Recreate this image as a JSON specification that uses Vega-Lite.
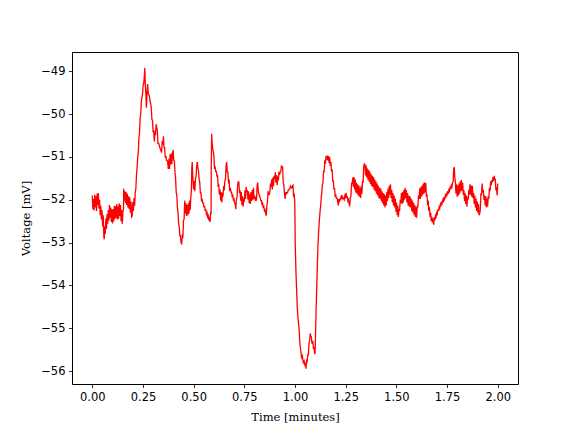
{
  "$schema": "https://vega.github.io/schema/vega-lite/v6.json",
  "width": 446,
  "height": 332,
  "autosize": {"type": "none"},
  "padding": {"left": 72, "top": 52, "right": 58, "bottom": 48},
  "background": "white",
  "config": {
    "view": {"stroke": "black", "strokeWidth": 1},
    "axis": {
      "grid": false,
      "domain": false,
      "tickColor": "black",
      "tickSize": 3.5,
      "tickWidth": 0.8,
      "labelPadding": 3.5,
      "labelFont": "DejaVu Sans",
      "labelFontSize": 11.5,
      "labelColor": "black",
      "titleFont": "DejaVu Serif",
      "titleFontSize": 11.5,
      "titleFontWeight": "normal",
      "titleColor": "black"
    }
  },
  "data": {
    "values": [
{"t":0.000,"v":-51.90},{"t":0.003,"v":-52.22},{"t":0.006,"v":-51.98},{"t":0.009,"v":-52.25},{"t":0.012,"v":-51.88},{"t":0.015,"v":-52.18},{"t":0.018,"v":-51.92},{"t":0.021,"v":-52.26},{"t":0.024,"v":-51.86},{"t":0.027,"v":-52.12},
{"t":0.030,"v":-51.84},{"t":0.033,"v":-52.20},{"t":0.036,"v":-52.00},{"t":0.039,"v":-52.36},{"t":0.042,"v":-52.14},{"t":0.045,"v":-52.46},{"t":0.048,"v":-52.24},{"t":0.051,"v":-52.62},{"t":0.054,"v":-52.36},{"t":0.057,"v":-52.85},
{"t":0.059,"v":-52.92},{"t":0.061,"v":-52.62},{"t":0.064,"v":-52.80},{"t":0.067,"v":-52.44},{"t":0.070,"v":-52.68},{"t":0.073,"v":-52.34},{"t":0.076,"v":-52.56},{"t":0.079,"v":-52.24},{"t":0.082,"v":-52.48},{"t":0.085,"v":-52.12},
{"t":0.088,"v":-52.42},{"t":0.091,"v":-52.18},{"t":0.094,"v":-52.52},{"t":0.097,"v":-52.22},{"t":0.100,"v":-52.55},{"t":0.103,"v":-52.22},{"t":0.106,"v":-52.50},{"t":0.109,"v":-52.14},{"t":0.112,"v":-52.45},{"t":0.115,"v":-52.15},
{"t":0.118,"v":-52.42},{"t":0.121,"v":-52.10},{"t":0.124,"v":-52.46},{"t":0.127,"v":-52.15},{"t":0.130,"v":-52.44},{"t":0.133,"v":-52.08},{"t":0.136,"v":-52.38},{"t":0.139,"v":-52.12},{"t":0.142,"v":-52.50},{"t":0.145,"v":-52.24},
{"t":0.148,"v":-52.56},{"t":0.151,"v":-52.28},{"t":0.154,"v":-52.22},{"t":0.155,"v":-51.74},{"t":0.158,"v":-52.02},{"t":0.161,"v":-51.80},{"t":0.164,"v":-52.08},{"t":0.167,"v":-51.82},{"t":0.170,"v":-52.12},{"t":0.173,"v":-51.86},
{"t":0.176,"v":-52.18},{"t":0.179,"v":-51.92},{"t":0.182,"v":-52.22},{"t":0.185,"v":-51.94},{"t":0.188,"v":-52.30},{"t":0.191,"v":-52.04},{"t":0.194,"v":-52.40},{"t":0.197,"v":-52.38},{"t":0.200,"v":-52.05},{"t":0.203,"v":-52.26},
{"t":0.206,"v":-51.96},{"t":0.209,"v":-52.14},{"t":0.212,"v":-51.82},{"t":0.215,"v":-51.74},{"t":0.218,"v":-51.42},{"t":0.221,"v":-51.26},{"t":0.224,"v":-51.02},{"t":0.227,"v":-50.90},{"t":0.230,"v":-50.56},{"t":0.233,"v":-50.45},
{"t":0.236,"v":-50.10},{"t":0.239,"v":-50.00},{"t":0.242,"v":-49.70},{"t":0.245,"v":-49.62},{"t":0.248,"v":-49.52},{"t":0.251,"v":-49.32},{"t":0.254,"v":-49.28},{"t":0.257,"v":-49.10},{"t":0.259,"v":-48.92},{"t":0.261,"v":-49.26},
{"t":0.264,"v":-49.50},{"t":0.267,"v":-49.85},{"t":0.270,"v":-49.50},{"t":0.273,"v":-49.30},{"t":0.276,"v":-49.52},{"t":0.279,"v":-49.55},{"t":0.282,"v":-49.58},{"t":0.285,"v":-49.70},{"t":0.288,"v":-49.76},{"t":0.291,"v":-49.85},
{"t":0.294,"v":-50.12},{"t":0.297,"v":-50.14},{"t":0.300,"v":-50.42},{"t":0.303,"v":-50.38},{"t":0.306,"v":-50.64},{"t":0.309,"v":-50.44},{"t":0.312,"v":-50.46},{"t":0.315,"v":-50.24},{"t":0.318,"v":-50.32},{"t":0.321,"v":-50.38},
{"t":0.324,"v":-50.68},{"t":0.327,"v":-50.68},{"t":0.330,"v":-50.72},{"t":0.333,"v":-50.78},{"t":0.336,"v":-50.82},{"t":0.339,"v":-50.86},{"t":0.342,"v":-50.88},{"t":0.345,"v":-50.62},{"t":0.348,"v":-50.72},{"t":0.351,"v":-50.52},
{"t":0.354,"v":-50.78},{"t":0.357,"v":-50.78},{"t":0.360,"v":-51.02},{"t":0.363,"v":-50.98},{"t":0.366,"v":-51.08},{"t":0.369,"v":-51.08},{"t":0.372,"v":-51.12},{"t":0.375,"v":-51.28},{"t":0.378,"v":-51.04},{"t":0.381,"v":-51.28},
{"t":0.384,"v":-50.94},{"t":0.387,"v":-51.18},{"t":0.390,"v":-50.92},{"t":0.393,"v":-51.16},{"t":0.396,"v":-50.88},{"t":0.399,"v":-50.86},{"t":0.402,"v":-51.08},{"t":0.405,"v":-51.10},{"t":0.408,"v":-51.36},{"t":0.411,"v":-51.50},
{"t":0.414,"v":-51.82},{"t":0.417,"v":-51.90},{"t":0.420,"v":-52.18},{"t":0.423,"v":-52.30},{"t":0.426,"v":-52.56},{"t":0.429,"v":-52.62},{"t":0.432,"v":-52.84},{"t":0.435,"v":-52.84},{"t":0.438,"v":-53.00},{"t":0.441,"v":-53.04},
{"t":0.444,"v":-52.84},{"t":0.447,"v":-52.86},{"t":0.450,"v":-52.48},{"t":0.453,"v":-52.46},{"t":0.456,"v":-52.02},{"t":0.459,"v":-52.32},{"t":0.462,"v":-52.08},{"t":0.465,"v":-52.38},{"t":0.468,"v":-52.12},{"t":0.471,"v":-52.36},
{"t":0.474,"v":-52.08},{"t":0.477,"v":-52.32},{"t":0.480,"v":-52.02},{"t":0.483,"v":-52.24},{"t":0.486,"v":-51.96},{"t":0.489,"v":-51.76},{"t":0.491,"v":-51.26},{"t":0.493,"v":-51.12},{"t":0.495,"v":-51.40},{"t":0.497,"v":-51.55},
{"t":0.500,"v":-51.76},{"t":0.503,"v":-51.56},{"t":0.506,"v":-51.80},{"t":0.509,"v":-51.50},{"t":0.512,"v":-51.46},{"t":0.515,"v":-51.20},{"t":0.518,"v":-51.12},{"t":0.521,"v":-51.26},{"t":0.524,"v":-51.32},{"t":0.527,"v":-51.52},
{"t":0.530,"v":-51.58},{"t":0.533,"v":-51.84},{"t":0.536,"v":-51.84},{"t":0.539,"v":-52.04},{"t":0.542,"v":-51.98},{"t":0.545,"v":-52.08},{"t":0.548,"v":-52.08},{"t":0.551,"v":-52.18},{"t":0.554,"v":-52.14},{"t":0.557,"v":-52.26},
{"t":0.560,"v":-52.22},{"t":0.563,"v":-52.33},{"t":0.566,"v":-52.30},{"t":0.569,"v":-52.40},{"t":0.572,"v":-52.37},{"t":0.575,"v":-52.48},{"t":0.578,"v":-52.44},{"t":0.581,"v":-52.52},{"t":0.584,"v":-52.28},{"t":0.586,"v":-52.34},
{"t":0.587,"v":-51.20},{"t":0.589,"v":-50.46},{"t":0.591,"v":-50.66},{"t":0.594,"v":-50.80},{"t":0.597,"v":-50.88},{"t":0.600,"v":-50.98},{"t":0.603,"v":-51.28},{"t":0.606,"v":-51.22},{"t":0.609,"v":-51.34},{"t":0.612,"v":-51.34},
{"t":0.615,"v":-51.46},{"t":0.618,"v":-51.42},{"t":0.621,"v":-51.70},{"t":0.624,"v":-51.64},{"t":0.627,"v":-51.88},{"t":0.630,"v":-51.76},{"t":0.633,"v":-52.02},{"t":0.636,"v":-51.82},{"t":0.639,"v":-52.06},{"t":0.642,"v":-51.84},
{"t":0.645,"v":-51.92},{"t":0.648,"v":-51.68},{"t":0.651,"v":-51.78},{"t":0.654,"v":-51.55},{"t":0.657,"v":-51.52},{"t":0.660,"v":-51.20},{"t":0.663,"v":-51.12},{"t":0.666,"v":-51.36},{"t":0.669,"v":-51.36},{"t":0.672,"v":-51.62},
{"t":0.675,"v":-51.52},{"t":0.678,"v":-51.80},{"t":0.681,"v":-51.72},{"t":0.684,"v":-51.82},{"t":0.687,"v":-51.82},{"t":0.690,"v":-51.92},{"t":0.693,"v":-51.90},{"t":0.696,"v":-52.00},{"t":0.699,"v":-51.98},{"t":0.702,"v":-52.08},
{"t":0.705,"v":-52.08},{"t":0.708,"v":-52.22},{"t":0.711,"v":-51.98},{"t":0.714,"v":-51.96},{"t":0.717,"v":-51.66},{"t":0.720,"v":-51.58},{"t":0.723,"v":-51.58},{"t":0.726,"v":-51.84},{"t":0.729,"v":-51.78},{"t":0.732,"v":-52.02},
{"t":0.735,"v":-51.82},{"t":0.738,"v":-52.12},{"t":0.741,"v":-51.92},{"t":0.744,"v":-52.16},{"t":0.747,"v":-52.00},{"t":0.750,"v":-52.02},{"t":0.753,"v":-51.78},{"t":0.756,"v":-51.98},{"t":0.759,"v":-51.70},{"t":0.762,"v":-51.82},
{"t":0.765,"v":-51.78},{"t":0.768,"v":-52.00},{"t":0.771,"v":-51.80},{"t":0.774,"v":-52.08},{"t":0.777,"v":-51.87},{"t":0.780,"v":-52.10},{"t":0.783,"v":-51.82},{"t":0.786,"v":-52.03},{"t":0.789,"v":-51.77},{"t":0.792,"v":-52.00},
{"t":0.795,"v":-51.72},{"t":0.798,"v":-51.98},{"t":0.801,"v":-51.90},{"t":0.804,"v":-52.00},{"t":0.807,"v":-51.97},{"t":0.810,"v":-52.02},{"t":0.813,"v":-51.68},{"t":0.816,"v":-51.60},{"t":0.819,"v":-51.82},{"t":0.822,"v":-51.86},
{"t":0.825,"v":-51.92},{"t":0.828,"v":-51.94},{"t":0.831,"v":-52.02},{"t":0.834,"v":-52.02},{"t":0.837,"v":-52.10},{"t":0.840,"v":-52.08},{"t":0.843,"v":-52.17},{"t":0.846,"v":-52.15},{"t":0.849,"v":-52.25},{"t":0.852,"v":-52.23},
{"t":0.855,"v":-52.32},{"t":0.858,"v":-52.37},{"t":0.861,"v":-52.14},{"t":0.864,"v":-52.06},{"t":0.867,"v":-51.80},{"t":0.870,"v":-51.88},{"t":0.873,"v":-51.88},{"t":0.876,"v":-51.82},{"t":0.879,"v":-51.62},{"t":0.882,"v":-51.70},
{"t":0.885,"v":-51.52},{"t":0.888,"v":-51.76},{"t":0.891,"v":-51.48},{"t":0.894,"v":-51.68},{"t":0.897,"v":-51.44},{"t":0.900,"v":-51.52},{"t":0.903,"v":-51.36},{"t":0.906,"v":-51.60},{"t":0.909,"v":-51.42},{"t":0.912,"v":-51.66},
{"t":0.915,"v":-51.46},{"t":0.918,"v":-51.55},{"t":0.921,"v":-51.34},{"t":0.924,"v":-51.42},{"t":0.927,"v":-51.36},{"t":0.930,"v":-51.34},{"t":0.933,"v":-51.20},{"t":0.936,"v":-51.24},{"t":0.939,"v":-51.24},{"t":0.942,"v":-51.60},
{"t":0.945,"v":-51.64},{"t":0.948,"v":-51.86},{"t":0.951,"v":-51.98},{"t":0.954,"v":-51.82},{"t":0.957,"v":-51.86},{"t":0.960,"v":-51.84},{"t":0.963,"v":-51.84},{"t":0.966,"v":-51.78},{"t":0.969,"v":-51.78},{"t":0.972,"v":-51.74},
{"t":0.975,"v":-51.74},{"t":0.978,"v":-51.68},{"t":0.981,"v":-51.70},{"t":0.984,"v":-51.72},{"t":0.987,"v":-51.68},{"t":0.990,"v":-51.66},{"t":0.993,"v":-51.90},{"t":0.996,"v":-51.88},{"t":0.999,"v":-52.05},{"t":1.001,"v":-53.02},
{"t":1.005,"v":-53.72},{"t":1.008,"v":-54.10},{"t":1.011,"v":-54.50},{"t":1.015,"v":-54.78},{"t":1.020,"v":-55.00},{"t":1.024,"v":-55.36},{"t":1.028,"v":-55.50},{"t":1.032,"v":-55.68},{"t":1.036,"v":-55.64},{"t":1.041,"v":-55.80},
{"t":1.045,"v":-55.76},{"t":1.049,"v":-55.86},{"t":1.052,"v":-55.84},{"t":1.054,"v":-55.94},{"t":1.057,"v":-55.76},{"t":1.060,"v":-55.78},{"t":1.063,"v":-55.62},{"t":1.066,"v":-55.62},{"t":1.069,"v":-55.34},{"t":1.072,"v":-55.30},
{"t":1.075,"v":-55.12},{"t":1.078,"v":-55.18},{"t":1.081,"v":-55.20},{"t":1.084,"v":-55.36},{"t":1.088,"v":-55.30},{"t":1.091,"v":-55.48},{"t":1.094,"v":-55.44},{"t":1.097,"v":-55.60},{"t":1.099,"v":-55.56},{"t":1.101,"v":-55.20},
{"t":1.104,"v":-54.58},{"t":1.107,"v":-54.10},{"t":1.110,"v":-53.57},{"t":1.113,"v":-53.10},{"t":1.116,"v":-52.80},{"t":1.120,"v":-52.48},{"t":1.124,"v":-52.25},{"t":1.127,"v":-52.13},{"t":1.130,"v":-51.90},{"t":1.132,"v":-51.86},
{"t":1.135,"v":-51.64},{"t":1.138,"v":-51.60},{"t":1.141,"v":-51.34},{"t":1.144,"v":-51.34},{"t":1.147,"v":-51.08},{"t":1.150,"v":-51.16},{"t":1.153,"v":-50.98},{"t":1.156,"v":-51.06},{"t":1.159,"v":-50.97},{"t":1.162,"v":-51.08},
{"t":1.165,"v":-50.98},{"t":1.168,"v":-51.14},{"t":1.171,"v":-51.00},{"t":1.174,"v":-51.21},{"t":1.177,"v":-51.12},{"t":1.180,"v":-51.34},{"t":1.183,"v":-51.29},{"t":1.186,"v":-51.56},{"t":1.189,"v":-51.56},{"t":1.192,"v":-51.76},
{"t":1.195,"v":-51.72},{"t":1.198,"v":-51.91},{"t":1.201,"v":-51.89},{"t":1.204,"v":-51.96},{"t":1.207,"v":-51.96},{"t":1.210,"v":-52.02},{"t":1.213,"v":-52.13},{"t":1.216,"v":-51.98},{"t":1.219,"v":-52.03},{"t":1.222,"v":-51.98},
{"t":1.225,"v":-51.99},{"t":1.228,"v":-51.92},{"t":1.231,"v":-51.95},{"t":1.234,"v":-51.90},{"t":1.237,"v":-51.98},{"t":1.240,"v":-51.97},{"t":1.243,"v":-52.00},{"t":1.246,"v":-51.90},{"t":1.249,"v":-51.93},{"t":1.252,"v":-51.84},
{"t":1.255,"v":-51.96},{"t":1.258,"v":-51.92},{"t":1.261,"v":-52.03},{"t":1.264,"v":-52.00},{"t":1.267,"v":-52.10},{"t":1.270,"v":-52.13},{"t":1.273,"v":-51.94},{"t":1.276,"v":-51.92},{"t":1.279,"v":-51.62},{"t":1.282,"v":-51.62},
{"t":1.285,"v":-51.48},{"t":1.288,"v":-51.70},{"t":1.291,"v":-51.47},{"t":1.294,"v":-51.76},{"t":1.297,"v":-51.52},{"t":1.300,"v":-51.83},{"t":1.303,"v":-51.60},{"t":1.306,"v":-51.86},{"t":1.309,"v":-51.64},{"t":1.312,"v":-51.90},
{"t":1.315,"v":-51.67},{"t":1.318,"v":-51.93},{"t":1.321,"v":-51.72},{"t":1.324,"v":-51.96},{"t":1.327,"v":-51.67},{"t":1.330,"v":-51.86},{"t":1.333,"v":-51.57},{"t":1.336,"v":-51.58},{"t":1.339,"v":-51.22},{"t":1.342,"v":-51.16},
{"t":1.345,"v":-51.17},{"t":1.348,"v":-51.43},{"t":1.351,"v":-51.20},{"t":1.354,"v":-51.48},{"t":1.357,"v":-51.27},{"t":1.360,"v":-51.53},{"t":1.363,"v":-51.30},{"t":1.366,"v":-51.58},{"t":1.369,"v":-51.34},{"t":1.372,"v":-51.63},
{"t":1.375,"v":-51.40},{"t":1.378,"v":-51.68},{"t":1.381,"v":-51.44},{"t":1.384,"v":-51.70},{"t":1.387,"v":-51.47},{"t":1.390,"v":-51.76},{"t":1.393,"v":-51.52},{"t":1.396,"v":-51.80},{"t":1.399,"v":-51.57},{"t":1.402,"v":-51.86},
{"t":1.405,"v":-51.62},{"t":1.408,"v":-51.90},{"t":1.411,"v":-51.67},{"t":1.414,"v":-51.96},{"t":1.417,"v":-51.72},{"t":1.420,"v":-51.98},{"t":1.423,"v":-51.74},{"t":1.426,"v":-52.03},{"t":1.429,"v":-51.80},{"t":1.432,"v":-52.08},
{"t":1.435,"v":-51.84},{"t":1.438,"v":-52.13},{"t":1.441,"v":-51.87},{"t":1.444,"v":-52.18},{"t":1.447,"v":-51.90},{"t":1.450,"v":-52.13},{"t":1.453,"v":-51.82},{"t":1.456,"v":-52.03},{"t":1.459,"v":-51.74},{"t":1.462,"v":-51.96},
{"t":1.465,"v":-51.67},{"t":1.468,"v":-51.88},{"t":1.471,"v":-51.64},{"t":1.474,"v":-51.96},{"t":1.477,"v":-51.77},{"t":1.480,"v":-52.06},{"t":1.483,"v":-51.84},{"t":1.486,"v":-52.13},{"t":1.489,"v":-51.90},{"t":1.492,"v":-52.18},
{"t":1.495,"v":-51.97},{"t":1.498,"v":-52.28},{"t":1.501,"v":-52.07},{"t":1.504,"v":-52.36},{"t":1.507,"v":-52.14},{"t":1.510,"v":-52.40},{"t":1.513,"v":-52.22},{"t":1.516,"v":-52.26},{"t":1.519,"v":-52.00},{"t":1.522,"v":-52.08},
{"t":1.525,"v":-51.84},{"t":1.528,"v":-52.10},{"t":1.531,"v":-51.82},{"t":1.534,"v":-52.06},{"t":1.537,"v":-51.77},{"t":1.540,"v":-52.00},{"t":1.543,"v":-51.72},{"t":1.546,"v":-51.96},{"t":1.549,"v":-51.77},{"t":1.552,"v":-52.06},
{"t":1.555,"v":-51.84},{"t":1.558,"v":-52.13},{"t":1.561,"v":-51.90},{"t":1.564,"v":-52.16},{"t":1.567,"v":-51.92},{"t":1.570,"v":-52.18},{"t":1.573,"v":-51.97},{"t":1.576,"v":-52.26},{"t":1.579,"v":-52.02},{"t":1.582,"v":-52.30},
{"t":1.585,"v":-52.07},{"t":1.588,"v":-52.36},{"t":1.591,"v":-52.12},{"t":1.594,"v":-52.40},{"t":1.597,"v":-52.17},{"t":1.600,"v":-52.42},{"t":1.603,"v":-52.14},{"t":1.606,"v":-52.18},{"t":1.609,"v":-51.90},{"t":1.612,"v":-51.98},
{"t":1.615,"v":-51.74},{"t":1.618,"v":-51.98},{"t":1.621,"v":-51.70},{"t":1.624,"v":-51.93},{"t":1.627,"v":-51.67},{"t":1.630,"v":-51.88},{"t":1.633,"v":-51.62},{"t":1.636,"v":-51.86},{"t":1.639,"v":-51.60},{"t":1.642,"v":-51.83},
{"t":1.645,"v":-51.60},{"t":1.648,"v":-51.93},{"t":1.651,"v":-51.87},{"t":1.654,"v":-52.13},{"t":1.657,"v":-52.02},{"t":1.660,"v":-52.26},{"t":1.663,"v":-52.17},{"t":1.666,"v":-52.40},{"t":1.669,"v":-52.30},{"t":1.672,"v":-52.50},
{"t":1.675,"v":-52.40},{"t":1.678,"v":-52.53},{"t":1.681,"v":-52.44},{"t":1.684,"v":-52.58},{"t":1.687,"v":-52.40},{"t":1.690,"v":-52.48},{"t":1.693,"v":-52.37},{"t":1.696,"v":-52.40},{"t":1.699,"v":-52.30},{"t":1.702,"v":-52.33},
{"t":1.705,"v":-52.22},{"t":1.708,"v":-52.26},{"t":1.711,"v":-52.17},{"t":1.714,"v":-52.20},{"t":1.717,"v":-52.10},{"t":1.720,"v":-52.13},{"t":1.723,"v":-52.04},{"t":1.726,"v":-52.08},{"t":1.729,"v":-52.00},{"t":1.732,"v":-52.03},
{"t":1.735,"v":-51.94},{"t":1.738,"v":-51.98},{"t":1.741,"v":-51.90},{"t":1.744,"v":-51.93},{"t":1.747,"v":-51.84},{"t":1.750,"v":-51.88},{"t":1.753,"v":-51.80},{"t":1.756,"v":-51.86},{"t":1.759,"v":-51.77},{"t":1.762,"v":-51.80},
{"t":1.765,"v":-51.72},{"t":1.768,"v":-51.76},{"t":1.771,"v":-51.67},{"t":1.774,"v":-51.70},{"t":1.777,"v":-51.60},{"t":1.780,"v":-51.58},{"t":1.783,"v":-51.27},{"t":1.786,"v":-51.24},{"t":1.788,"v":-51.48},{"t":1.791,"v":-51.57},
{"t":1.794,"v":-51.86},{"t":1.797,"v":-51.64},{"t":1.800,"v":-51.93},{"t":1.803,"v":-51.67},{"t":1.806,"v":-51.90},{"t":1.809,"v":-51.62},{"t":1.812,"v":-51.86},{"t":1.815,"v":-51.57},{"t":1.818,"v":-51.80},{"t":1.821,"v":-51.54},
{"t":1.824,"v":-51.78},{"t":1.827,"v":-51.60},{"t":1.830,"v":-51.88},{"t":1.833,"v":-51.77},{"t":1.836,"v":-52.03},{"t":1.839,"v":-51.84},{"t":1.842,"v":-52.10},{"t":1.845,"v":-51.90},{"t":1.848,"v":-52.16},{"t":1.851,"v":-51.94},
{"t":1.854,"v":-52.00},{"t":1.857,"v":-51.77},{"t":1.860,"v":-51.88},{"t":1.863,"v":-51.64},{"t":1.866,"v":-51.88},{"t":1.869,"v":-51.67},{"t":1.872,"v":-51.93},{"t":1.875,"v":-51.67},{"t":1.878,"v":-51.96},{"t":1.881,"v":-51.84},
{"t":1.884,"v":-52.10},{"t":1.887,"v":-51.90},{"t":1.890,"v":-52.18},{"t":1.893,"v":-51.97},{"t":1.896,"v":-52.26},{"t":1.899,"v":-52.04},{"t":1.902,"v":-52.30},{"t":1.905,"v":-52.10},{"t":1.908,"v":-52.36},{"t":1.911,"v":-52.33},
{"t":1.914,"v":-52.23},{"t":1.917,"v":-51.87},{"t":1.920,"v":-51.88},{"t":1.923,"v":-51.62},{"t":1.926,"v":-51.83},{"t":1.929,"v":-51.77},{"t":1.932,"v":-52.00},{"t":1.935,"v":-51.90},{"t":1.938,"v":-52.13},{"t":1.941,"v":-51.92},
{"t":1.944,"v":-52.18},{"t":1.947,"v":-51.97},{"t":1.950,"v":-52.16},{"t":1.953,"v":-51.92},{"t":1.956,"v":-51.98},{"t":1.959,"v":-51.72},{"t":1.962,"v":-51.80},{"t":1.965,"v":-51.57},{"t":1.968,"v":-51.66},{"t":1.971,"v":-51.54},
{"t":1.974,"v":-51.59},{"t":1.977,"v":-51.47},{"t":1.980,"v":-51.56},{"t":1.983,"v":-51.44},{"t":1.985,"v":-51.51},{"t":1.988,"v":-51.52},{"t":1.991,"v":-51.78},{"t":1.994,"v":-51.70},{"t":1.997,"v":-51.90},{"t":2.000,"v":-51.62}
    ]
  },
  "mark": {"type": "line", "color": "#ff0000", "strokeWidth": 1.3, "clip": true},
  "encoding": {
    "x": {
      "field": "t",
      "type": "quantitative",
      "scale": {"domain": [-0.1, 2.1], "nice": false, "zero": false},
      "axis": {
        "title": "Time [minutes]",
        "values": [0, 0.25, 0.5, 0.75, 1, 1.25, 1.5, 1.75, 2],
        "format": ".2f",
        "titlePadding": 9
      }
    },
    "y": {
      "field": "v",
      "type": "quantitative",
      "scale": {"domain": [-56.3, -48.55], "nice": false, "zero": false},
      "axis": {
        "title": "Voltage [mV]",
        "values": [-56, -55, -54, -53, -52, -51, -50, -49],
        "labelExpr": "replace(format(datum.value, 'd'), '-', '\u2212')",
        "titlePadding": 9
      }
    }
  }
}
